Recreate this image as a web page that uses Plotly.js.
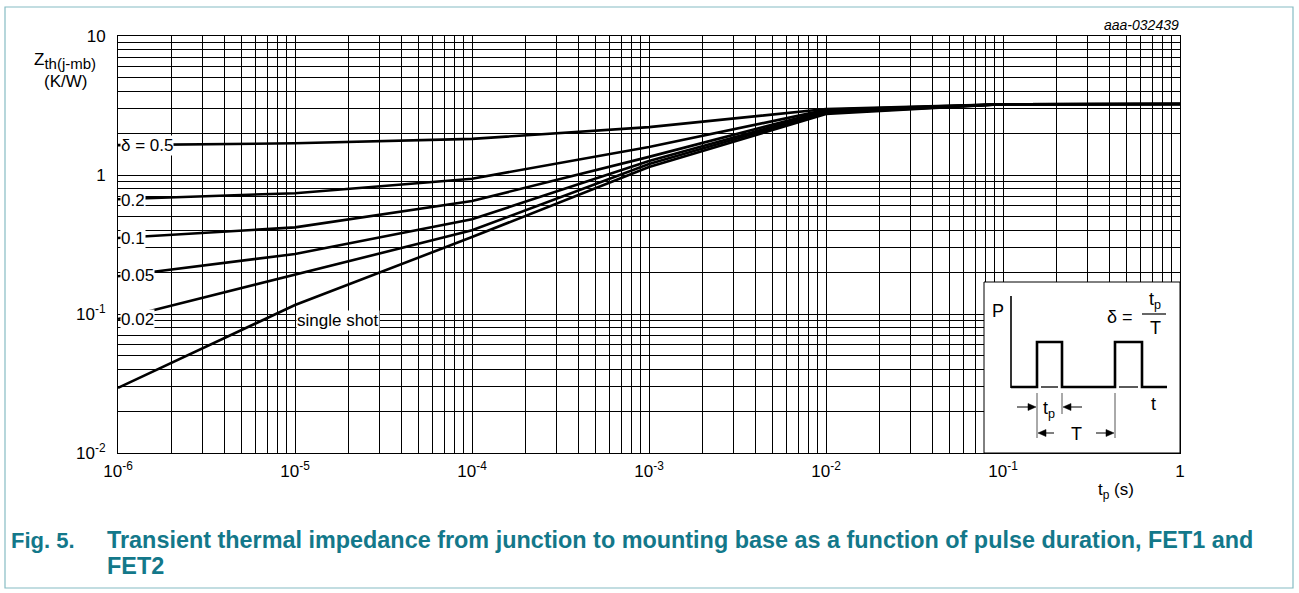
<!DOCTYPE html>
<html>
<head>
<meta charset="utf-8">
<script src="https://cdn.plot.ly/plotly-3.0.1.min.js"></script>
<style>html,body{margin:0;padding:0;background:#fff;}#chart{width:1299px;height:593px;}</style>
</head>
<body>
<div id="chart"></div>
<script>
// ---- data ----
const tp = [1e-6, 1e-5, 1e-4, 1e-3, 1e-2, 1e-1, 1];
const zDelta05 = [1.64, 1.69, 1.82, 2.21, 2.98, 3.23, 3.24];
const zDelta02 = [0.67, 0.74, 0.94, 1.59, 2.94, 3.23, 3.24];
const zDelta01 = [0.352, 0.42, 0.65, 1.35, 2.90, 3.23, 3.24];
const zDelta005 = [0.187, 0.27, 0.48, 1.26, 2.85, 3.23, 3.24];
const zDelta002 = [0.092, 0.191, 0.40, 1.20, 2.80, 3.23, 3.24];
const zSingle = [0.0294, 0.116, 0.358, 1.14, 2.75, 3.23, 3.24];
const seriesNames = ['δ = 0.5', '0.2', '0.1', '0.05', '0.02', 'single shot'];
const xDecades = [-6, -5, -4, -3, -2, -1, 0];
const yDecades = [-2, -1, 0, 1];
const xTickText = ['10<sup>-6</sup>', '10<sup>-5</sup>', '10<sup>-4</sup>', '10<sup>-3</sup>', '10<sup>-2</sup>', '10<sup>-1</sup>', '1'];
const yTickText = ['10<sup>-2</sup>', '10<sup>-1</sup>', '1', '10'];

// ---- tick arrays ----
const xTickVals = xDecades.map(k => Math.pow(10, k));
const yTickVals = yDecades.map(k => Math.pow(10, k));
function minorVals(decades){
  const out = [];
  decades.slice(0, -1).forEach(k => { for (let m = 2; m <= 9; m++) out.push(m * Math.pow(10, k)); });
  return out;
}
const xMinor = minorVals(xDecades);
const yMinor = minorVals(yDecades);

// ---- geometry helpers (pixel -> paper) ----
const W = 1299, H = 593, L = 118, R = 1180, T = 36, B = 453;
const px = x => (x - L) / (R - L);
const py = y => (B - y) / (B - T);
const FONT = 'Liberation Sans, Arial, sans-serif';
const TEAL = '#13788a';

const allSeries = [zDelta05, zDelta02, zDelta01, zDelta005, zDelta002, zSingle];
const traces = allSeries.map((ys, i) => ({
  x: tp, y: ys, type: 'scatter', mode: 'lines', name: seriesNames[i],
  line: {color: '#000', width: 2.6}, hoverinfo: 'x+y'
}));

const shapes = [];
const annotations = [];

// outer frame
shapes.push({type:'rect', xref:'paper', yref:'paper', x0:px(5), x1:px(1293), y0:py(7), y1:py(588),
  line:{color:'#86bcc3', width:1.2}, fillcolor:'rgba(0,0,0,0)', layer:'below'});

// curve labels
function lab(text, x, y, anchor){
  annotations.push({text:text, xref:'paper', yref:'paper', x:px(x), y:py(y), xanchor:anchor||'left', yanchor:'middle',
    showarrow:false, bgcolor:'#fff', borderpad:0, font:{family:FONT, size:17, color:'#000'}});
}
lab(seriesNames[0], 120, 145);
lab(seriesNames[1], 120, 200);
lab(seriesNames[2], 120, 238);
lab(seriesNames[3], 120, 275);
lab(seriesNames[4], 120, 319);
lab(seriesNames[5], 296, 320);

// inset box
shapes.push({type:'rect', xref:'paper', yref:'paper', x0:px(984), x1:px(1180), y0:py(282), y1:py(453),
  line:{color:'#000', width:1}, fillcolor:'#fff', layer:'above'});
function seg(x0,y0,x1,y1,w,c){
  shapes.push({type:'line', xref:'paper', yref:'paper', x0:px(x0), y0:py(y0), x1:px(x1), y1:py(y1),
    line:{color:c||'#000', width:w}, layer:'above'});
}
function pathOf(pts, close){
  return pts.map((p,i)=>(i?'L':'M')+px(p[0])+','+py(p[1])).join(' ') + (close ? ' Z' : '');
}
// P axis
seg(1011, 296, 1011, 388, 1.6);
// pulse train
const pulsePath = [[1011,387],[1037,387],[1037,342],[1062,342],[1062,387],[1115,387],[1115,342],[1142,342],[1142,387],[1167,387]];
shapes.push({type:'path', xref:'paper', yref:'paper', layer:'above', path: pathOf(pulsePath), line:{color:'#000', width:2.6}});
// baseline under pulses
seg(1041, 387, 1058, 387, 1.3);
seg(1119, 387, 1138, 387, 1.3);
// dimension lines
seg(1037, 393, 1037, 438, 1, '#555');
seg(1062, 393, 1062, 414, 1, '#555');
seg(1115, 393, 1115, 438, 1, '#555');
// fraction bar
seg(1142, 314, 1166, 314, 1.2);

// dimension arrows (shaft + filled head)
function arrow(hx, hy, tx, ty){
  const dir = Math.sign(hx - tx);
  seg(tx, ty, hx - dir * 6, hy, 1);
  shapes.push({type:'path', xref:'paper', yref:'paper', layer:'above',
    path: pathOf([[hx, hy], [hx - dir * 8, hy - 3.5], [hx - dir * 8, hy + 3.5]], true),
    fillcolor:'#000', line:{color:'#000', width:0.5}});
}
arrow(1036, 407, 1017, 407);
arrow(1063, 407, 1082, 407);
arrow(1038, 433, 1054, 433);
arrow(1114, 433, 1096, 433);

function itxt(text, x, y, size){
  annotations.push({text:text, xref:'paper', yref:'paper', x:px(x), y:py(y), xanchor:'center', yanchor:'middle',
    showarrow:false, font:{family:FONT, size:size||17, color:'#000'}});
}
itxt('P', 998, 311, 18);
itxt('δ =', 1120, 317, 18);
itxt('t<sub>p</sub>', 1155, 300, 18);
itxt('T', 1155, 328, 18);
itxt('t', 1153, 404, 18);
itxt('t<sub>p</sub>', 1049, 409, 18);
itxt('T', 1076, 434, 18);

// axis titles & notes
annotations.push({text:'Z<sub><span style="font-size:15px">th(j-mb)</span></sub>', xref:'paper', yref:'paper', x:px(32), y:py(61), xanchor:'left', yanchor:'middle',
  showarrow:false, font:{family:FONT, size:17, color:'#000'}});
annotations.push({text:'(K/W)', xref:'paper', yref:'paper', x:px(65), y:py(81), xanchor:'center', yanchor:'middle',
  showarrow:false, font:{family:FONT, size:17, color:'#000'}});
annotations.push({text:'t<sub>p</sub> (s)', xref:'paper', yref:'paper', x:px(1116), y:py(491), xanchor:'center', yanchor:'middle',
  showarrow:false, font:{family:FONT, size:17, color:'#000'}});
annotations.push({text:'<i>aaa-032439</i>', xref:'paper', yref:'paper', x:px(1181), y:py(25), xanchor:'right', yanchor:'middle',
  showarrow:false, font:{family:FONT, size:14, color:'#000'}});
// caption
annotations.push({text:'<b>Fig. 5.</b>', xref:'paper', yref:'paper', x:px(9), y:py(540), xanchor:'left', yanchor:'middle',
  showarrow:false, font:{family:FONT, size:22, color:TEAL}});
annotations.push({text:'<b>Transient thermal impedance from junction to mounting base as a function of pulse duration, FET1 and</b>', xref:'paper', yref:'paper', x:px(105), y:py(540), xanchor:'left', yanchor:'middle',
  showarrow:false, font:{family:FONT, size:23.4, color:TEAL}});
annotations.push({text:'<b>FET2</b>', xref:'paper', yref:'paper', x:px(105), y:py(566), xanchor:'left', yanchor:'middle',
  showarrow:false, font:{family:FONT, size:23.4, color:TEAL}});

const axisCommon = {
  type:'log', tickmode:'array', showgrid:true, gridcolor:'#000', gridwidth:1,
  showline:true, linecolor:'#000', linewidth:1, mirror:true, zeroline:false,
  ticks:'', tickfont:{family:FONT, size:17, color:'#000'}, fixedrange:true
};
const layout = {
  width:W, height:H, showlegend:false,
  paper_bgcolor:'#fff', plot_bgcolor:'#fff',
  margin:{l:L, r:W-R, t:T, b:H-B, pad:0},
  xaxis: Object.assign({}, axisCommon, {range:[-6, 0], tickvals:xTickVals, ticktext:xTickText, ticklabelstandoff:3,
    minor:{tickmode:'array', tickvals:xMinor, showgrid:true, gridcolor:'#000', gridwidth:1, ticks:''}}),
  yaxis: Object.assign({}, axisCommon, {range:[-2, 1], tickvals:yTickVals, ticktext:yTickText, ticklabelstandoff:8,
    minor:{tickmode:'array', tickvals:yMinor, showgrid:true, gridcolor:'#000', gridwidth:1, ticks:''}}),
  shapes:shapes, annotations:annotations
};
Plotly.newPlot('chart', traces, layout, {displayModeBar:false, staticPlot:true});
</script>
</body>
</html>
